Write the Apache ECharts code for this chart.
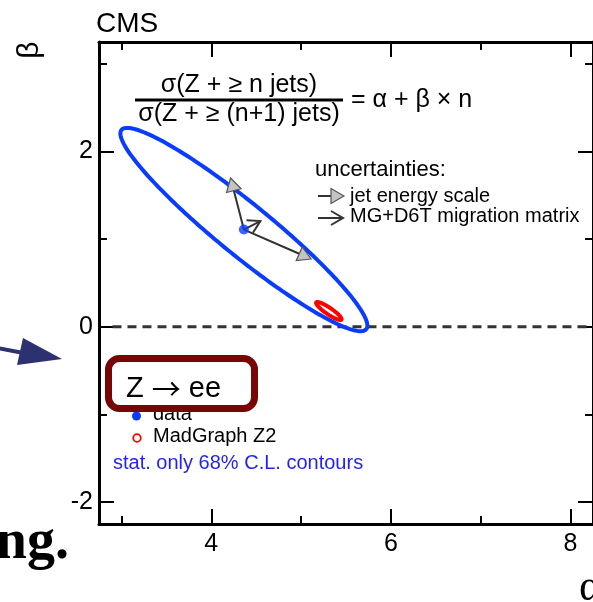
<!DOCTYPE html>
<html>
<head>
<meta charset="utf-8">
<style>
  html, body { margin: 0; padding: 0; background: #ffffff; }
  #chart { width: 593px; height: 602px; }
</style>
<script src="https://cdn.jsdelivr.net/npm/echarts@6/dist/echarts.min.js"></script>
</head>
<body>
<div id="chart"></div>
<script>
// Jet multiplicity scaling fit in Z -> ee events:
// sigma(Z + >= n jets) / sigma(Z + >= (n+1) jets) = alpha + beta * n

// axis ranges and ticks
const alphaRange = [2.75, 8.25];
const betaRange = [-2.25, 3.25];
const alphaMajorTicks = [4, 6, 8];
const alphaMinorTicks = [3, 5, 7];
const betaMajorTicks = [-2, 0, 2];
const betaMinorTicks = [-1, 1, 3];

// best fit to the data [alpha, beta]
const dataFit = [[4.363, 1.110]];

// 68% C.L. contours: [alpha centre, beta centre, alpha half-width, beta half-width, correlation]
const dataContour = [[4.363, 1.110, 1.375, 1.16, -0.945]];
const madgraphContour = [[5.309, 0.180, 0.142, 0.103, -0.90]];

// systematic shifts of the fit: [alpha from, beta from, alpha to, beta to]
const jesShifts = [
  [4.363, 1.110, 4.215, 1.698],
  [4.363, 1.110, 5.112, 0.774]
];
const migrationShifts = [
  [4.363, 1.110, 4.547, 1.207]
];

// beta = 0 reference line
const zeroLine = [[2.9, 0], [8.25, 0]];

const SANS = "'Liberation Sans', Arial, Helvetica, sans-serif";
const SERIF = "'Liberation Serif', 'Times New Roman', serif";
const BLUE = '#0a3cff';
const RED = '#ff0000';

// arrow pieces in pixel space; 'jes' = grey filled head, 'mg' = open head
function arrowParts(p0, p1, kind) {
  const dx = p1[0] - p0[0], dy = p1[1] - p0[1];
  const len = Math.hypot(dx, dy) || 1;
  const ux = dx / len, uy = dy / len;
  const nx = -uy, ny = ux;
  if (kind === 'jes') {
    const hl = 13, hw = 7.5;
    const bx = p1[0] - hl * ux, by = p1[1] - hl * uy;
    return [
      { type: 'line', shape: { x1: p0[0], y1: p0[1], x2: bx, y2: by },
        style: { stroke: '#333333', lineWidth: 2 } },
      { type: 'polygon', shape: { points: [p1, [bx + hw * nx, by + hw * ny], [bx - hw * nx, by - hw * ny]] },
        style: { fill: '#c4c4c4', stroke: '#555555', lineWidth: 1.2 } }
    ];
  }
  const hl = 12, hw = 7;
  const bx = p1[0] - hl * ux, by = p1[1] - hl * uy;
  return [
    { type: 'line', shape: { x1: p0[0], y1: p0[1], x2: p1[0], y2: p1[1] },
      style: { stroke: '#333333', lineWidth: 2 } },
    { type: 'polyline', shape: { points: [[bx + hw * nx, by + hw * ny], p1, [bx - hw * nx, by - hw * ny]] },
      style: { fill: 'none', stroke: '#333333', lineWidth: 2 } }
  ];
}

function arrowSeries(data, kind, z) {
  return {
    type: 'custom',
    z: z,
    data: data,
    encode: { x: [0, 2], y: [1, 3] },
    renderItem: function (params, api) {
      const p0 = api.coord([api.value(0), api.value(1)]);
      const p1 = api.coord([api.value(2), api.value(3)]);
      return { type: 'group', children: arrowParts(p0, p1, kind) };
    }
  };
}

function contourSeries(data, color, width, z) {
  return {
    type: 'custom',
    z: z,
    data: data,
    encode: { x: 0, y: 1 },
    renderItem: function (params, api) {
      const ca = api.value(0), cb = api.value(1);
      const sa = api.value(2), sb = api.value(3), rho = api.value(4);
      const k = Math.sqrt(1 - rho * rho);
      const pts = [];
      for (let i = 0; i < 240; i++) {
        const t = i / 240 * 2 * Math.PI;
        pts.push(api.coord([ca + sa * Math.cos(t), cb + sb * (rho * Math.cos(t) + k * Math.sin(t))]));
      }
      return { type: 'polygon', shape: { points: pts },
        style: { fill: 'none', stroke: color, lineWidth: width } };
    }
  };
}

function xAxisDef(position, ticks, len, withLine, withLabels) {
  return {
    type: 'value', gridIndex: 0, position: position,
    min: alphaRange[0], max: alphaRange[1],
    axisLine: { show: withLine, onZero: false, lineStyle: { color: '#000', width: 3 } },
    axisTick: { show: true, inside: true, length: len, customValues: ticks,
      lineStyle: { color: '#000', width: 2 } },
    axisLabel: withLabels
      ? { show: true, customValues: ticks, margin: 8, color: '#000', fontSize: 25, fontFamily: SANS }
      : { show: false },
    splitLine: { show: false }
  };
}

function yAxisDef(position, ticks, len, withLine, withLabels) {
  return {
    type: 'value', gridIndex: 0, position: position,
    min: betaRange[0], max: betaRange[1],
    axisLine: { show: withLine, onZero: false, lineStyle: { color: '#000', width: 3 } },
    axisTick: { show: true, inside: true, length: len, customValues: ticks,
      lineStyle: { color: '#000', width: 2 } },
    axisLabel: withLabels
      ? { show: true, customValues: ticks, margin: 6, color: '#000', fontSize: 25, fontFamily: SANS,
          padding: [4, 0, 0, 0],
          formatter: function (v) { return String(v); } }
      : { show: false },
    splitLine: { show: false }
  };
}

function txt(x, y, text, font, fill, align) {
  return { type: 'text', x: x, y: y, z: 50,
    style: { text: text, font: font, fill: fill || '#000', align: align || 'left', verticalAlign: 'middle' } };
}

const chart = echarts.init(document.getElementById('chart'), null, { renderer: 'canvas' });

const jesIcon = arrowParts([318, 196], [344, 196], 'jes');
const mgIcon = arrowParts([318, 218], [343, 218], 'mg');

chart.setOption({
  animation: false,
  backgroundColor: '#ffffff',
  grid: { left: 99, top: 42, width: 503, height: 482, containLabel: false },
  xAxis: [
    xAxisDef('bottom', alphaMajorTicks, 15, true, true),
    xAxisDef('bottom', alphaMinorTicks, 8, false, false),
    xAxisDef('top', alphaMajorTicks, 15, true, false),
    xAxisDef('top', alphaMinorTicks, 8, false, false)
  ],
  yAxis: [
    yAxisDef('left', betaMajorTicks, 15, true, true),
    yAxisDef('left', betaMinorTicks, 8, false, false),
    yAxisDef('right', betaMajorTicks, 15, true, false),
    yAxisDef('right', betaMinorTicks, 8, false, false)
  ],
  series: [
    {
      type: 'line', z: 2, data: zeroLine, symbol: 'none', silent: true,
      lineStyle: { color: '#333333', width: 3, type: [9, 6] }
    },
    contourSeries(dataContour, BLUE, 4, 3),
    contourSeries(madgraphContour, RED, 4, 4),
    arrowSeries(jesShifts, 'jes', 5),
    arrowSeries(migrationShifts, 'mg', 5),
    {
      type: 'scatter', z: 6, data: dataFit, symbol: 'circle', symbolSize: 10,
      itemStyle: { color: BLUE }
    }
  ],
  graphic: [
    txt(96, 24, 'CMS', '28px ' + SANS),
    { type: 'text', x: 30, y: 50, rotation: Math.PI / 2, z: 50,
      style: { text: 'β', font: '30px ' + SANS, fill: '#000', align: 'center', verticalAlign: 'middle' } },
    // ratio formula
    txt(239, 85, 'σ(Z + ≥ n jets)', '25px ' + SANS, '#000', 'center'),
    { type: 'rect', z: 50, shape: { x: 135, y: 98.5, width: 208, height: 3 }, style: { fill: '#000' } },
    txt(239, 114.5, 'σ(Z + ≥ (n+1) jets)', '25px ' + SANS, '#000', 'center'),
    txt(351, 100, '= α + β × n', '25px ' + SANS),
    // uncertainty legend
    txt(315, 170, 'uncertainties:', '22px ' + SANS),
    { type: 'group', z: 50, children: jesIcon },
    txt(350, 196, 'jet energy scale', '20px ' + SANS),
    { type: 'group', z: 50, children: mgIcon },
    txt(350, 216, 'MG+D6T migration matrix', '20px ' + SANS),
    // sample legend
    { type: 'circle', z: 50, shape: { cx: 136.5, cy: 416, r: 4.5 }, style: { fill: BLUE } },
    txt(153, 414.5, 'data', '20px ' + SANS),
    { type: 'circle', z: 50, shape: { cx: 137, cy: 438, r: 3.8 }, style: { fill: '#fff', stroke: RED, lineWidth: 1.8 } },
    txt(153, 436.5, 'MadGraph Z2', '20px ' + SANS),
    txt(113, 463, 'stat. only 68% C.L. contours', '20px ' + SANS, '#1f1fff'),
    // channel label box
    { type: 'rect', z: 60, shape: { x: 108.5, y: 358.5, width: 146, height: 50, r: 11 },
      style: { fill: '#ffffff', stroke: '#780606', lineWidth: 7 } },
    { type: 'text', x: 126, y: 389, z: 61,
      style: {
        text: '{a|Z }{b|→}{a| ee}', align: 'left', verticalAlign: 'middle', fill: '#000',
        rich: {
          a: { font: '29px ' + SANS, fill: '#000' },
          b: { font: "29px 'Noto Sans CJK JP', sans-serif", fill: '#000' }
        }
      } },
    // pointer arrow
    { type: 'line', z: 60, shape: { x1: -5, y1: 347.5, x2: 26, y2: 353.5 },
      style: { stroke: '#2e3170', lineWidth: 4 } },
    { type: 'polygon', z: 60, shape: { points: [[23, 338], [17, 365], [62, 359]] },
      style: { fill: '#2e3170' } },
    // surrounding text
    txt(69, 544, 'ng.', 'bold 56px ' + SERIF, '#000', 'right'),
    txt(579, 588, 'α', '44px ' + SERIF)
  ]
});
</script>
</body>
</html>
